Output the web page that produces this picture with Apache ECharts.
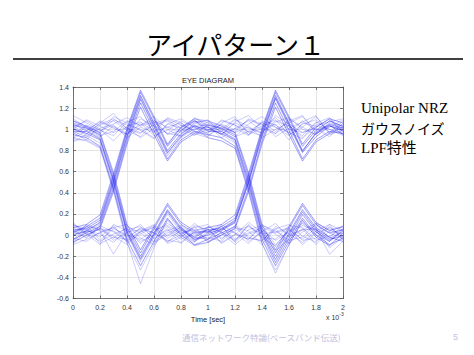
<!DOCTYPE html>
<html><head><meta charset="utf-8">
<script src="https://cdn.jsdelivr.net/npm/echarts@6/dist/echarts.min.js"></script>
<style>html,body{margin:0;padding:0;background:#fff}#c{width:474px;height:355px}</style>
</head><body><div id="c"></div>
<script>
// Time samples (x 10^-3 sec)
const timeMs = [0,0.1,0.2,0.3,0.4,0.5,0.6,0.7,0.8,0.9,1.0,1.1,1.2,1.3,1.4,1.5,1.6,1.7,1.8,1.9,2.0];
const xTicks = [0,0.2,0.4,0.6,0.8,1,1.2,1.4,1.6,1.8,2];
const yTicks = [-0.6,-0.4,-0.2,0,0.2,0.4,0.6,0.8,1,1.2,1.4];
const slideTitle = 'アイパターン１';
const chartTitle = 'EYE DIAGRAM';
const xName = 'Time [sec]';
const sideNotes = ['Unipolar NRZ','ガウスノイズ','LPF特性'];
const footer = '通信ネットワーク特論(ベースバンド伝送)';
const pageNo = '5';

// Eye traces (one per 2 ms sweep)
// bits 1-1-1
const a01=[1.05,0.98,1.08,1.02,0.95,1.10,1.03,0.96,1.04,0.99,1.07,1.01,0.93,1.05,1.12,1.02,0.97,1.08,0.99,1.04,0.98];
const a02=[0.92,1.03,0.97,1.12,1.06,0.99,0.91,1.05,1.10,1.02,0.96,1.09,1.04,0.98,0.94,1.07,1.11,1.00,0.95,1.08,1.02];
const a03=[1.10,1.02,0.94,0.98,1.08,1.04,1.12,1.00,0.93,1.06,1.02,0.95,1.07,1.13,1.01,0.96,1.04,0.92,1.06,1.11,0.97];
const a04=[0.97,0.90,1.04,1.08,0.99,0.93,1.06,1.09,1.01,0.94,1.05,1.00,1.10,0.97,1.03,1.09,0.95,1.02,1.12,0.97,1.05];
const a05=[1.02,1.08,1.00,0.89,1.03,1.07,0.98,0.85,1.02,1.08,0.99,1.04,0.97,1.02,0.96,1.13,1.05,0.97,1.01,0.93,1.06];
const a06=[0.88,0.95,1.06,1.15,1.00,0.96,1.08,1.02,0.97,1.11,1.03,0.92,1.01,1.08,0.99,1.05,0.90,1.06,1.03,1.00,0.94];
const a07=[1.13,1.06,0.99,1.04,0.92,1.02,0.97,1.11,1.06,0.98,0.93,1.06,1.12,0.95,1.07,0.98,1.08,1.13,0.96,1.02,1.09];
// bits 1-1-0
const b01=[1.03,0.96,1.05,1.10,1.01,0.97,1.04,1.08,0.98,1.03,1.04,1.01,0.95,0.56,0.07,-0.17,0.06,0.28,0.10,0.02,0.05];
const b02=[0.95,1.04,0.99,0.94,1.07,1.12,0.98,1.02,1.06,0.97,0.95,0.92,0.84,0.44,-0.04,-0.29,-0.06,0.16,0.00,-0.09,-0.03];
const b03=[1.08,1.01,0.93,1.03,0.96,1.04,1.09,0.95,0.99,1.07,1.08,1.03,0.97,0.59,0.10,-0.14,0.08,0.30,0.12,0.04,0.08];
const b04=[1.00,1.09,1.03,0.97,1.02,0.92,1.01,1.10,1.04,0.95,1.00,0.96,0.90,0.50,0.02,-0.23,0.00,0.22,0.05,-0.04,-0.01];
const b05=[0.91,0.99,1.07,1.01,0.95,1.06,0.94,0.99,1.08,1.02,0.92,0.89,0.82,0.41,-0.08,-0.36,-0.09,0.14,-0.02,-0.10,0.02];
const b06=[1.06,1.02,0.96,1.09,1.04,1.00,0.92,1.05,1.01,1.09,0.98,0.98,0.91,0.53,0.04,-0.20,0.02,0.24,0.07,-0.02,-0.06];
const b07=[0.98,0.93,1.01,1.05,1.11,1.03,1.07,0.96,0.94,1.00,1.02,0.99,0.88,0.47,0.00,-0.26,-0.03,0.19,0.03,-0.06,0.04];
// bits 1-0-1
const c01=[1.04,1.01,0.95,0.56,0.07,-0.17,0.06,0.28,0.10,0.02,0.03,0.08,0.16,0.55,0.99,1.35,1.10,0.84,0.99,1.08,1.03];
const c02=[0.95,0.92,0.84,0.44,-0.04,-0.29,-0.06,0.16,0.00,-0.09,-0.04,0.02,0.08,0.44,0.89,1.25,0.99,0.72,0.90,0.98,0.96];
const c03=[1.08,1.03,0.97,0.59,0.10,-0.14,0.08,0.30,0.12,0.04,0.07,0.10,0.19,0.58,1.01,1.37,1.12,0.86,1.02,1.10,1.06];
const c04=[1.00,0.96,0.90,0.50,0.02,-0.23,0.00,0.22,0.05,-0.04,0.00,0.04,0.12,0.50,0.93,1.29,1.03,0.78,0.93,1.03,0.99];
const c05=[0.92,0.89,0.82,0.41,-0.08,-0.33,-0.09,0.14,-0.02,-0.10,-0.07,0.00,0.06,0.41,0.86,1.21,0.95,0.70,0.88,0.96,1.02];
const c06=[0.98,0.98,0.91,0.53,0.04,-0.20,0.02,0.24,0.07,-0.02,0.05,0.06,0.14,0.52,0.97,1.32,1.06,0.80,0.96,1.04,0.95];
const c07=[1.02,0.94,0.87,0.47,0.01,-0.25,-0.02,0.20,0.03,-0.06,0.02,0.05,0.13,0.49,0.95,1.30,1.05,0.79,0.97,1.05,1.01];
// bits 1-0-0
const d01=[1.04,1.01,0.95,0.56,0.07,-0.17,0.06,0.28,0.10,0.02,0.05,-0.04,0.08,-0.06,0.03,0.11,-0.02,0.06,-0.09,0.04,0.01];
const d02=[0.95,0.92,0.84,0.44,-0.04,-0.29,-0.06,0.16,0.00,-0.09,-0.07,0.03,-0.05,0.09,-0.03,-0.10,0.05,-0.04,0.07,-0.12,-0.02];
const d03=[1.08,1.03,0.97,0.59,0.10,-0.14,0.08,0.30,0.12,0.04,0.03,0.10,0.02,-0.04,0.08,0.01,-0.08,0.12,0.03,-0.05,0.06];
const d04=[1.00,0.96,0.90,0.50,0.02,-0.23,0.00,0.22,0.05,-0.04,-0.02,-0.06,0.07,0.04,-0.09,0.06,0.10,-0.01,-0.07,0.08,-0.04];
const d05=[0.90,0.90,0.83,0.43,-0.06,-0.46,-0.12,0.15,0.01,-0.07,0.08,0.02,-0.09,0.01,0.05,-0.05,0.03,0.09,0.05,-0.02,0.09];
const d06=[0.98,0.98,0.91,0.53,0.04,-0.20,0.02,0.24,0.07,-0.02,-0.04,0.06,0.11,-0.02,-0.06,0.08,0.01,-0.07,0.04,0.10,-0.05];
const d07=[1.06,0.99,0.92,0.51,0.03,-0.22,0.01,0.23,0.06,-0.03,0.06,-0.08,0.00,0.12,0.02,-0.15,-0.04,0.05,0.11,-0.03,0.03];
// bits 0-1-1
const e01=[0.03,0.08,0.16,0.55,0.99,1.35,1.10,0.84,0.99,1.08,1.02,0.95,1.06,1.01,0.97,1.08,1.03,0.94,1.07,1.00,0.96];
const e02=[-0.04,0.02,0.08,0.44,0.89,1.25,0.99,0.72,0.90,0.98,0.97,1.05,0.99,1.09,1.04,0.96,1.10,1.02,0.95,1.06,1.03];
const e03=[0.07,0.10,0.19,0.58,1.01,1.37,1.12,0.86,1.02,1.10,1.06,1.00,0.93,0.98,1.06,1.02,0.94,1.05,1.09,0.97,1.08];
const e04=[0.00,0.04,0.12,0.50,0.93,1.29,1.03,0.78,0.93,1.03,0.99,1.08,1.04,0.95,1.01,1.11,1.00,0.97,1.02,1.10,0.95];
const e05=[-0.07,0.00,0.06,0.41,0.86,1.21,0.95,0.70,0.88,0.96,1.04,0.98,1.09,1.03,0.92,1.00,1.06,1.12,0.99,1.03,1.01];
const e06=[0.05,0.06,0.14,0.52,0.97,1.32,1.06,0.80,0.96,1.04,0.94,1.02,0.97,1.10,1.05,0.93,1.01,1.07,1.13,0.95,0.99];
const e07=[0.10,0.05,0.11,0.48,0.94,1.31,1.05,0.77,0.95,1.06,1.09,0.96,1.01,0.94,1.08,1.04,0.97,0.91,1.04,1.07,1.10];
// bits 0-1-0
const f01=[0.03,0.08,0.16,0.55,0.99,1.35,1.10,0.84,0.99,1.08,1.04,1.01,0.95,0.56,0.07,-0.17,0.06,0.28,0.10,0.02,0.05];
const f02=[-0.04,0.02,0.08,0.44,0.89,1.25,0.99,0.72,0.90,0.98,0.95,0.92,0.84,0.44,-0.04,-0.29,-0.06,0.16,0.00,-0.09,-0.03];
const f03=[0.07,0.10,0.19,0.58,1.01,1.37,1.12,0.86,1.02,1.10,1.08,1.03,0.97,0.59,0.10,-0.14,0.08,0.30,0.12,0.04,0.08];
const f04=[0.00,0.04,0.12,0.50,0.93,1.29,1.03,0.78,0.93,1.03,1.00,0.96,0.90,0.50,0.02,-0.23,0.00,0.22,0.05,-0.04,-0.01];
const f05=[-0.07,0.00,0.06,0.41,0.86,1.21,0.95,0.70,0.88,0.96,0.92,0.89,0.82,0.41,-0.08,-0.33,-0.09,0.14,-0.02,-0.10,0.02];
const f06=[0.05,0.06,0.14,0.52,0.97,1.32,1.06,0.80,0.96,1.04,0.98,0.98,0.91,0.53,0.04,-0.20,0.02,0.24,0.07,-0.02,-0.06];
const f07=[0.01,0.03,0.10,0.46,0.92,1.28,1.02,0.75,0.92,1.01,1.02,0.95,0.87,0.48,0.01,-0.26,-0.03,0.20,0.03,-0.06,0.04];
// bits 0-0-1
const g01=[0.04,-0.03,0.08,-0.05,0.02,0.10,-0.04,0.05,-0.08,0.03,0.03,0.08,0.16,0.55,0.99,1.35,1.10,0.84,0.99,1.08,1.03];
const g02=[-0.06,0.05,-0.02,0.09,-0.07,0.01,0.08,-0.03,0.04,-0.10,-0.04,0.02,0.08,0.44,0.89,1.25,0.99,0.72,0.90,0.98,0.96];
const g03=[0.09,0.02,-0.06,0.01,0.06,-0.08,0.03,0.11,0.02,0.05,0.07,0.10,0.19,0.58,1.01,1.37,1.12,0.86,1.02,1.10,1.06];
const g04=[-0.02,0.10,0.04,-0.18,0.03,0.05,-0.06,0.02,0.07,-0.04,0.00,0.04,0.12,0.50,0.93,1.29,1.03,0.78,0.93,1.03,0.99];
const g05=[0.12,0.00,0.06,0.04,-0.05,0.03,0.07,-0.08,-0.02,0.08,-0.07,0.00,0.06,0.41,0.86,1.21,0.95,0.70,0.88,0.96,1.02];
const g06=[-0.09,-0.04,0.02,0.07,0.10,-0.03,-0.09,0.04,0.09,0.00,0.05,0.06,0.14,0.52,0.97,1.32,1.06,0.80,0.96,1.04,0.95];
const g07=[0.02,0.07,-0.08,-0.02,-0.04,0.07,0.02,-0.06,0.00,0.11,0.02,0.05,0.13,0.49,0.95,1.30,1.05,0.79,0.97,1.05,1.01];
// bits 0-0-0
const h01=[0.05,-0.02,0.09,0.03,-0.06,0.04,0.10,-0.01,0.06,-0.05,0.03,0.08,-0.04,0.02,0.07,-0.09,0.04,0.11,0.00,-0.06,0.05];
const h02=[-0.08,0.04,0.01,-0.07,0.05,0.08,-0.03,0.06,-0.04,0.02,-0.06,0.00,0.09,-0.03,-0.05,0.06,-0.08,0.03,0.09,0.02,-0.03];
const h03=[0.02,0.09,-0.05,0.06,0.00,-0.04,0.05,0.09,0.01,0.07,0.10,-0.03,0.04,0.08,0.01,0.03,0.07,-0.05,-0.03,0.10,0.04];
const h04=[0.10,0.03,0.05,-0.03,0.08,0.02,-0.07,0.00,0.08,-0.06,0.01,0.06,0.02,-0.08,0.04,-0.11,0.00,0.05,0.06,-0.18,-0.06];
const h05=[-0.03,-0.06,0.03,0.07,-0.02,0.06,0.02,-0.05,-0.07,0.04,-0.04,0.09,-0.07,0.05,0.09,0.04,-0.05,-0.02,0.11,0.05,0.08];
const h06=[0.07,0.01,-0.09,0.10,0.04,-0.06,0.00,0.08,-0.02,0.09,0.05,-0.07,0.01,-0.04,0.10,0.02,0.06,-0.09,0.02,0.07,-0.01];
const h07=[-0.05,0.08,0.06,-0.01,-0.09,0.03,0.09,-0.07,0.05,-0.02,0.08,0.03,-0.06,0.10,-0.02,-0.04,0.09,0.07,-0.05,-0.01,0.06];

const traces=[a01,a02,a03,a04,a05,a06,a07,b01,b02,b03,b04,b05,b06,b07,c01,c02,c03,c04,c05,c06,c07,
              d01,d02,d03,d04,d05,d06,d07,e01,e02,e03,e04,e05,e06,e07,f01,f02,f03,f04,f05,f06,f07,
              g01,g02,g03,g04,g05,g06,g07,h01,h02,h03,h04,h05,h06,h07];

const chart = echarts.init(document.getElementById('c'), null, {renderer:'svg', width:474, height:355});
const fmt = v => { const t = xTicks.concat(yTicks).find(k => Math.abs(k - v) < 1e-9); return String(t !== undefined ? t : v); };
const axisCommon = {
  axisLine:{show:true, onZero:false, lineStyle:{color:'#555', width:0.8}},
  axisTick:{show:true, inside:true, length:3, lineStyle:{color:'#555', width:0.8}},
  splitLine:{show:false}
};
const series = traces.map((t, i) => ({
  type:'line', name:'trace'+(i+1), xAxisIndex:0, yAxisIndex:0,
  data: t.map((v, k) => [timeMs[k], v]),
  showSymbol:false, symbol:'none', clip:true, silent:true, animation:false,
  lineStyle:{color:'rgba(25,25,235,0.22)', width:1}
}));

chart.setOption({
  animation:false,
  backgroundColor:'#fff',
  grid:{left:73, top:87, width:270, height:211.5, containLabel:false},
  xAxis:[
    Object.assign({}, axisCommon, {type:'value', position:'bottom', min:0, max:2, interval:0.2,
      splitLine:{show:true, lineStyle:{color:'#dadada', width:0.7}},
      axisLabel:{fontSize:7, color:'#333', margin:5, fontFamily:'Liberation Sans', formatter:fmt},
      name:xName, nameLocation:'middle', nameGap:14,
      nameTextStyle:{fontSize:7.5, color:'#222', fontFamily:'Liberation Sans'}}),
    Object.assign({}, axisCommon, {type:'value', position:'top', min:0, max:2, interval:0.2,
      axisLabel:{show:false}})
  ],
  yAxis:[
    Object.assign({}, axisCommon, {type:'value', position:'left', min:-0.6, max:1.4, interval:0.2,
      splitLine:{show:true, lineStyle:{color:'#dadada', width:0.7}},
      axisLabel:{fontSize:7, color:'#333', margin:4, fontFamily:'Liberation Sans', formatter:fmt}}),
    Object.assign({}, axisCommon, {type:'value', position:'right', min:-0.6, max:1.4, interval:0.2,
      axisLabel:{show:false}})
  ],
  series: series,
  graphic:[
    {type:'text', left:'center', top:30, style:{text:slideTitle, font:'26px "Noto Sans CJK JP"', fill:'#000'}},
    {type:'line', shape:{x1:13, y1:59, x2:463, y2:59}, style:{stroke:'#000', lineWidth:1.5}},
    {type:'text', x:208, y:80, style:{text:chartTitle, font:'7.5px "Liberation Sans"', fill:'#222', textAlign:'center', textVerticalAlign:'middle'}},
    {type:'text', x:326, y:317, style:{text:'x 10{s|-3}', font:'7px "Liberation Sans"', fill:'#333', textVerticalAlign:'middle',
      rich:{s:{fontSize:5, verticalAlign:'top', padding:[0,0,6,0]}}}},
    {type:'text', x:361, y:108, style:{text:sideNotes[0], font:'15px "Liberation Serif", "Noto Sans CJK JP"', fill:'#000', textVerticalAlign:'middle'}},
    {type:'text', x:361, y:129, style:{text:sideNotes[1], font:'14px "Liberation Serif", "Noto Sans CJK JP"', fill:'#000', textVerticalAlign:'middle'}},
    {type:'text', x:361, y:148, style:{text:sideNotes[2], font:'15px "Liberation Serif", "Noto Sans CJK JP"', fill:'#000', textVerticalAlign:'middle'}},
    {type:'text', x:182, y:337, style:{text:footer, font:'8.5px "Noto Sans CJK JP"', fill:'#c4c0dc', textVerticalAlign:'middle'}},
    {type:'text', x:453, y:337, style:{text:pageNo, font:'9px "Liberation Sans"', fill:'#c4c0dc', textVerticalAlign:'middle'}}
  ]
});
</script></body></html>
